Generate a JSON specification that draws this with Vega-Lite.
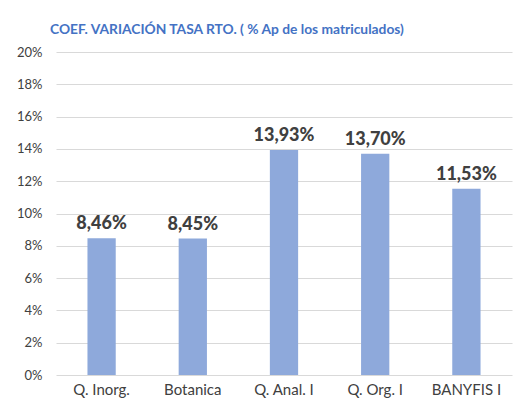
{
  "$schema": "https://vega.github.io/schema/vega-lite/v6.json",
  "width": 456,
  "height": 323,
  "autosize": {"type": "none"},
  "padding": {"left": 56, "top": 52, "right": 3, "bottom": 31},
  "background": "white",
  "title": {
    "text": "COEF. VARIACIÓN TASA RTO. ( % Ap de los matriculados)",
    "anchor": "start",
    "frame": "group",
    "dx": -6,
    "offset": 9,
    "font": "Lato",
    "fontSize": 13.8,
    "fontWeight": "bold",
    "color": "#4472C4"
  },
  "data": {
    "values": [
      {"asignatura": "Q. Inorg.", "valor": 0.0846},
      {"asignatura": "Botanica", "valor": 0.0845},
      {"asignatura": "Q. Anal. I", "valor": 0.1393},
      {"asignatura": "Q. Org. I", "valor": 0.1370},
      {"asignatura": "BANYFIS I", "valor": 0.1153}
    ]
  },
  "encoding": {
    "x": {
      "field": "asignatura",
      "type": "nominal",
      "sort": null,
      "scale": {"paddingInner": 0.69, "paddingOuter": 0.345},
      "axis": {
        "title": null,
        "labelAngle": 0,
        "labelFont": "Lato",
        "labelFontSize": 15,
        "labelColor": "#404040",
        "labelPadding": 7,
        "ticks": false,
        "domain": false
      }
    },
    "y": {
      "field": "valor",
      "type": "quantitative",
      "scale": {"domain": [0, 0.2]},
      "axis": {
        "title": null,
        "format": ".0%",
        "values": [0, 0.02, 0.04, 0.06, 0.08, 0.1, 0.12, 0.14, 0.16, 0.18, 0.2],
        "labelFont": "Lato",
        "labelFontSize": 13,
        "labelColor": "#404040",
        "labelPadding": 14,
        "ticks": false,
        "domain": false,
        "gridColor": "#D9D9D9",
        "gridWidth": 1
      }
    }
  },
  "layer": [
    {"mark": {"type": "bar", "color": "#8EA9DB"}},
    {
      "mark": {"type": "text", "baseline": "bottom", "dy": -5, "font": "Lato", "fontSize": 18, "fontWeight": 900, "color": "#404040"},
      "encoding": {"text": {"field": "valor", "type": "quantitative", "format": ".2%"}}
    }
  ],
  "config": {
    "view": {"stroke": null},
    "locale": {"number": {"decimal": ",", "thousands": ".", "grouping": [3], "currency": ["", " €"]}}
  }
}
